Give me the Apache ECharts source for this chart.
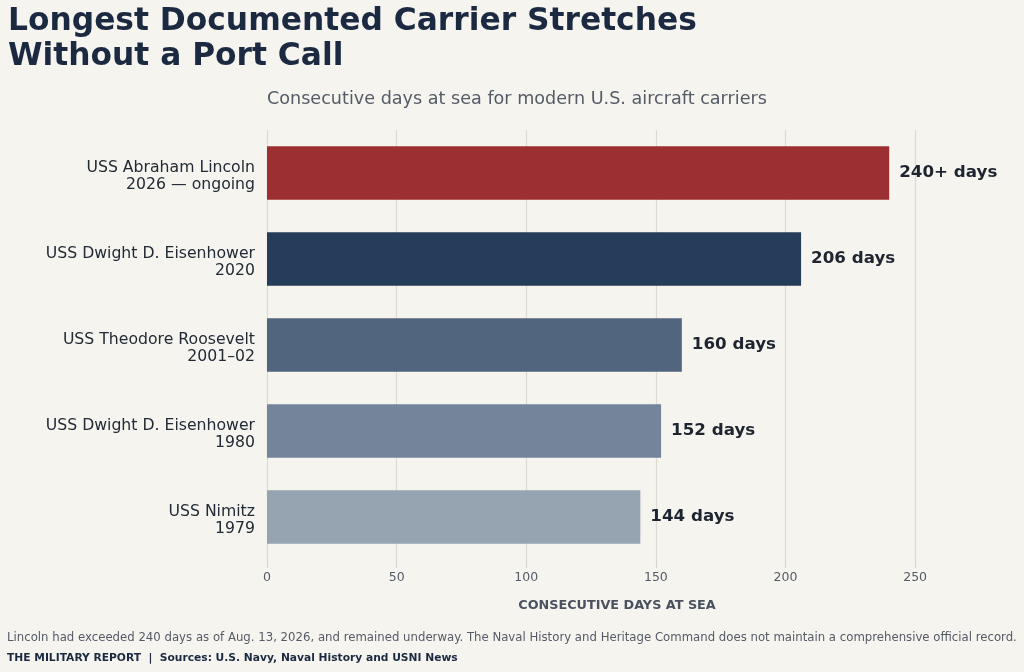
<!DOCTYPE html>
<html>
<head>
<meta charset="utf-8">
<title>Longest Documented Carrier Stretches Without a Port Call</title>
<script src="https://cdn.jsdelivr.net/npm/echarts@6/dist/echarts.min.js"></script>
<style>
  html, body { margin: 0; padding: 0; background: #f5f4ef; }
  #chart { width: 1024px; height: 672px; }
</style>
</head>
<body>
<div id="chart"></div>
<script>
// data
var ships = [
  'USS Abraham Lincoln\n2026 — ongoing',
  'USS Dwight D. Eisenhower\n2020',
  'USS Theodore Roosevelt\n2001–02',
  'USS Dwight D. Eisenhower\n1980',
  'USS Nimitz\n1979'
];
var days = [240, 206, 160, 152, 144];
var dayLabels = ['240+ days', '206 days', '160 days', '152 days', '144 days'];
var barColors = ['#9b2f31', '#253d5b', '#51657e', '#74859b', '#96a3b0'];
var xTicks = [0, 50, 100, 150, 200, 250];

var FONT = '"DejaVu Sans", sans-serif';

var myChart = echarts.init(document.getElementById('chart'));

var option = {
  backgroundColor: '#f5f4ef',
  animation: false,
  textStyle: { fontFamily: FONT },
  title: [
    {
      // headline
      text: 'Longest Documented Carrier Stretches\nWithout a Port Call',
      left: 8,
      top: 4,
      padding: 0,
      textStyle: { fontFamily: FONT, fontSize: 31.3, fontWeight: 'bold', color: '#1b2a41', lineHeight: 35 }
    },
    {
      // subtitle, aligned with the plot's left edge
      text: 'Consecutive days at sea for modern U.S. aircraft carriers',
      left: 267,
      top: 90,
      padding: 0,
      textStyle: { fontFamily: FONT, fontSize: 17.6, fontWeight: 'normal', color: '#555b66' }
    },
    {
      // footnote
      text: 'Lincoln had exceeded 240 days as of Aug. 13, 2026, and remained underway. The Naval History and Heritage Command does not maintain a comprehensive official record.',
      left: 7,
      top: 632,
      padding: 0,
      textStyle: { fontFamily: FONT, fontSize: 11.72, fontWeight: 'normal', color: '#555b66' }
    },
    {
      text: 'THE MILITARY REPORT  |  Sources: U.S. Navy, Naval History and USNI News',
      left: 7,
      top: 653,
      padding: 0,
      textStyle: { fontFamily: FONT, fontSize: 10.7, fontWeight: 'bold', color: '#1b2a41' }
    }
  ],
  grid: { left: 267, right: 57, top: 130, bottom: 112, containLabel: false },
  xAxis: {
    type: 'value',
    min: 0,
    max: 270,
    interval: 50,
    name: 'CONSECUTIVE DAYS AT SEA',
    nameLocation: 'middle',
    nameGap: 39,
    nameTextStyle: { fontFamily: FONT, fontSize: 12.8, fontWeight: 'bold', color: '#4a5260' },
    axisLine: { show: false },
    axisTick: { show: true, length: 8, lineStyle: { color: '#d6d4cd', width: 1.2 }, customValues: xTicks },
    axisLabel: { color: '#555b66', fontSize: 12.5, margin: 11, customValues: xTicks },
    splitLine: { show: true, lineStyle: { color: '#dcdad3', width: 1.2 } }
  },
  yAxis: {
    type: 'category',
    data: ships,
    inverse: true,
    axisLine: { show: false },
    axisTick: { show: false },
    axisLabel: {
      align: 'right',
      margin: 12,
      // a thin empty first line nudges the two-line label a little lower
      formatter: function (v) {
        return '{gap| }\n' + v.split('\n').map(function (s) { return '{t|' + s + '}'; }).join('\n');
      },
      rich: {
        gap: { fontSize: 1, lineHeight: 6 },
        t: { fontFamily: FONT, fontSize: 15.7, lineHeight: 17, color: '#222a35', align: 'right' }
      }
    }
  },
  series: [{
    type: 'bar',
    data: days.map(function (v, i) {
      return { value: v, itemStyle: { color: barColors[i] } };
    }),
    barWidth: '62%',
    label: {
      show: true,
      position: 'right',
      distance: 10,
      formatter: function (p) { return dayLabels[p.dataIndex]; },
      fontFamily: FONT,
      fontSize: 16.7,
      fontWeight: 'bold',
      color: '#1f2530'
    }
  }]
};

myChart.setOption(option);
</script>
</body>
</html>
